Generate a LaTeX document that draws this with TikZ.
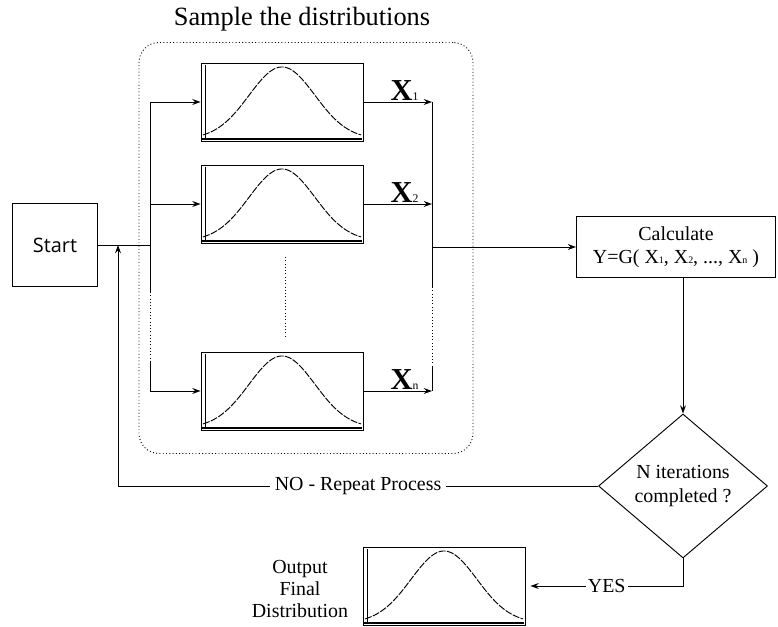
\documentclass[tikz,border=0pt]{standalone}
\usepackage{fontspec}
\setmainfont{Liberation Serif}
\newfontfamily\startfont{Open Sans}
\usetikzlibrary{shapes.geometric,positioning,arrows.meta}

\newcommand{\sub}[1]{{\fontsize{8.5}{8.5}\selectfont #1}}
\newcommand{\xlab}[1]{{\bfseries\fontsize{26}{26}\selectfont X}{\fontsize{10}{10}\selectfont #1}}
\newcommand{\bellcurve}[1]{%
  \begin{scope}[shift={(#1.center)}]
    \draw (-77,-37) -- (-77,37);
    \draw[line width=1.4pt] (-80,37) -- (80,37);
    \draw[dash pattern=on 6pt off 1.2pt] plot[domain=-79:79,samples=80,smooth] (\x,{37-72*exp(-(\x)^2/2178)});
  \end{scope}}

\begin{document}
\begin{tikzpicture}[x=0.03cm, y=-0.03cm, font=\fontsize{17}{20}\selectfont,
  every path/.style={line width=0.8pt},
  box/.style={draw, minimum width=4.86cm, minimum height=2.34cm, inner sep=0}]
  \useasboundingbox (0,0) rectangle (778,627);

  % group of sampled inputs
  \node[draw, dotted, rounded corners=0.6cm, minimum width=10.02cm, minimum height=12.33cm] (G) at (306,248) {};
  \node[font=\fontsize{22.5}{26}\selectfont] (T) at (302,19) {Sample the distributions};

  \begin{scope}[every node/.style={box}]
    \node (B1) at (282,102) {};
    \node (B2) at (282,204) {};
    \node (Bn) at (282,391) {};
    \node (Out) at (444,586) {};
  \end{scope}
  \bellcurve{B1}
  \bellcurve{B2}
  \bellcurve{Bn}
  \bellcurve{Out}

  \node[draw, minimum width=2.55cm, minimum height=2.49cm, font=\startfont\fontsize{17}{19}\selectfont] (S) at (55,245) {Start};
  \node[draw, minimum width=5.97cm, minimum height=1.83cm, align=center] (C) at (676,247) {Calculate\\Y=G( X\sub{1}, X\sub{2}, ..., X\sub{n} )};
  \node[draw, diamond, aspect=1.17, minimum width=5.07cm, minimum height=4.32cm, inner sep=0, align=center] (D) at (683,486) {N iterations\\completed ?};
  \node[align=center, font=\fontsize{17}{18.5}\selectfont] (O) at (300,589) {Output\\Final\\Distribution};

  \coordinate (J) at (150,245);
  \coordinate (Lb) at (150,292);
  \coordinate (Lc) at (150,362);
  \coordinate (R) at (432,247);
  \coordinate (Rb) at (432,287);
  \coordinate (Rc) at (432,367);
  \coordinate (Ma) at (285,257);
  \coordinate (Mb) at (285,338);
  \coordinate (F) at (118,486);

  \begin{scope}[every path/.style={line width=0.8pt, ->, >={Stealth[length=7pt,width=5pt]}}]
    % split to the inputs
    \draw[-] (S.east) -- (J);
    \draw[-] (B1.west -| J) -- (Lb);
    \draw[-, dotted] (Lb) -- (Lc);
    \draw (B1.west -| J) -- (B1.west);
    \draw (B2.west -| J) -- (B2.west);
    \draw (Lc) |- (Bn.west);
    \draw[-, dotted] (Ma) -- (Mb);
    % sampled values
    \draw (B1.east) -- (B1.east -| R) node[pos=0.6, above, inner sep=0.5pt] {\xlab{1}};
    \draw (B2.east) -- (B2.east -| R) node[pos=0.6, above, inner sep=0.5pt] {\xlab{2}};
    \draw (Bn.east) -- (Bn.east -| R) node[pos=0.6, above, inner sep=0.5pt] {\xlab{n}};
    \draw[-] (B1.east -| R) -- (Rb);
    \draw[-, dotted] (Rb) -- (Rc);
    \draw[-] (Rc) -- (Bn.east -| R);
    \draw (R) -- (C.west);
    \draw (C.south -| D.north) -- (D.north);
    % loop back or finish
    \draw (D.west) -- node[fill=white, inner sep=4pt] {NO - Repeat Process} (F) -- (F |- J);
    \draw (D.south) |- node[pos=0.75, fill=white, inner sep=2pt] {YES} ([xshift=0.15cm]Out.east);
  \end{scope}
\end{tikzpicture}
\end{document}
